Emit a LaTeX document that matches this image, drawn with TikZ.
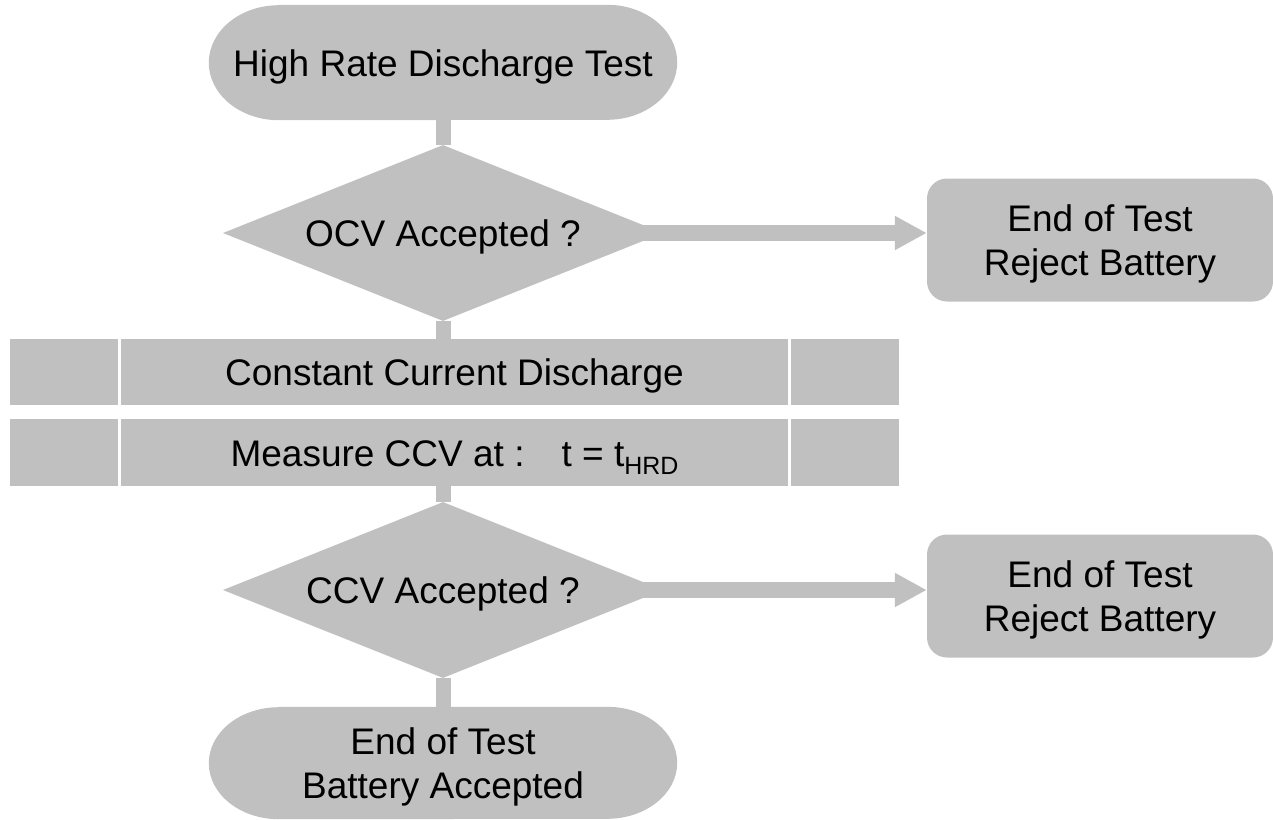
\documentclass[tikz,border=0pt]{standalone}
\usepackage{fontspec}
\setmainfont{Liberation Sans}
\usepackage{tikz}
\usetikzlibrary {shapes.geometric}
\usetikzlibrary {arrows.meta}

\definecolor{shapegrey}{HTML}{C0C0C0}

\pgfdeclarelayer{back}
\pgfsetlayers{back,main}

% stadium with elliptic ends behind a terminal node
\newcommand{\termfill}[2]{%
  \begin{pgfonlayer}{back}
    \fill [shapegrey] ([xshift=70pt]#1.north west) -- ([xshift=-70pt]#1.north east)
      arc [start angle=90, end angle=-90, x radius=70pt, y radius=#2]
      -- ([xshift=70pt]#1.south west)
      arc [start angle=270, end angle=90, x radius=70pt, y radius=#2] -- cycle;
  \end{pgfonlayer}}

\tikzset{
  every node/.style={font=\fontsize{37}{44}\selectfont, inner sep=0pt},
  oneline/.style={text height=27pt, text depth=0pt},
  twoline/.style={align=center, text depth=-6pt},
  terminal/.style={minimum width=468pt},
  decision/.style={diamond, fill=shapegrey, aspect=2.5, minimum width=440pt, minimum height=176pt, oneline},
  process/.style={rectangle, fill=shapegrey, minimum width=889pt, oneline},
  endbox/.style={rectangle, rounded corners=20pt, fill=shapegrey, minimum width=346pt, minimum height=123pt, twoline},
  bar/.style={shapegrey, line width=15pt},
  flow/.style={shapegrey, line width=16pt, -{Triangle[length=32pt, width=32pt]}},
  divider/.style={white, line width=2.7pt}
}

\begin{document}
\begin{tikzpicture}[x=1pt, y=1pt]
\useasboundingbox (0,0) rectangle (1273,-819);

\node [terminal, minimum height=115pt, oneline] (start) at (443,-62.5) {High Rate Discharge Test};
\termfill{start}{57.5pt}

\node [decision] (ocv) at (443,-233) {OCV Accepted ?};
\node [endbox] (rej1) at (1100,-240) {End of Test\\Reject Battery};

%discharge
\node [process, minimum height=66pt] (cc) at (454.5,-372) {Constant Current Discharge};
\node [process, minimum height=67pt] (ccv) at (454.5,-452.5)
  {Measure CCV at :\hspace{1em}t = t\smash{\raisebox{-8pt}{\fontsize{25}{25}\selectfont HRD}}};
\foreach \b in {cc,ccv} {
  \draw [divider] ([xshift=109.5pt]\b.north west) -- ([xshift=109.5pt]\b.south west);
  \draw [divider] ([xshift=-110pt]\b.north east) -- ([xshift=-110pt]\b.south east);
}

\node [decision] (ccvok) at (443,-590) {CCV Accepted ?};
\node [endbox] (rej2) at (1100,-596) {End of Test\\Reject Battery};

%output
\node [terminal, minimum height=112pt, align=center, text depth=-2pt] (done) at (443,-763) {End of Test\\Battery Accepted};
\termfill{done}{56pt}

\draw [bar] (start) -- (ocv);
\draw [bar] (ocv.south) -- (ocv.south |- cc.north);
\draw [bar] (ccvok.north |- ccv.south) -- (ccvok.north);
\draw [bar] (ccvok.south) -- (done.north);
\draw [flow] ([xshift=-25pt]ocv.east) -- (ocv.east -| rej1.west);
\draw [flow] ([xshift=-25pt]ccvok.east) -- (ccvok.east -| rej2.west);

\end{tikzpicture}
\end{document}
